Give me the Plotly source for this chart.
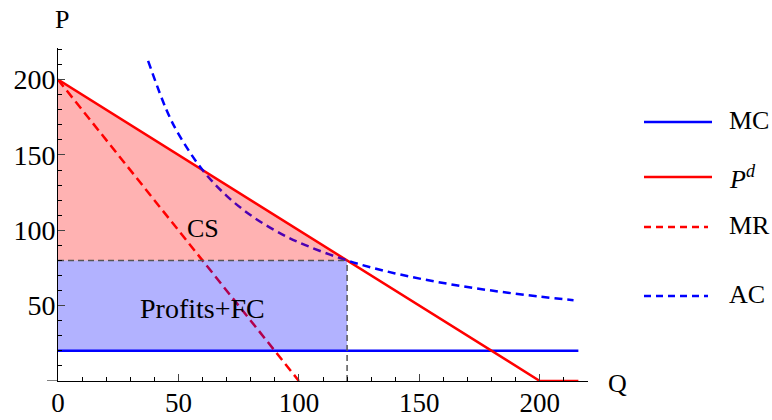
import plotly.graph_objects as go

# ---- data ----
mc_q = [0, 216]
mc_p = [20, 20]
demand_q = [0, 200, 216]
demand_p = [200, 0, 0]
mr_q = [0, 100]
mr_p = [200, 0]
ac_q = [37.4, 45, 50, 60, 70, 80, 90, 100, 120, 140, 160, 180, 200, 214]
ac_p = [212.5, 180, 164, 140, 122.9, 110, 100, 92, 80, 71.4, 65, 60, 56, 53.6]
cs_q = [0, 120, 0]
cs_p = [200, 80, 80]
profit_q = [0, 120, 120, 0]
profit_p = [20, 20, 80, 80]
q_star = 120
p_star = 80
x_ticks = [0, 50, 100, 150, 200]
y_ticks = [50, 100, 150, 200]
legend_names = ["MC", "<i>P</i><sup><i>d</i></sup>", "MR", "AC"]
legend_colors = ["#0000ff", "#ff0000", "#ff0000", "#0000ff"]
legend_dash = ["solid", "solid", "7px,5px", "7px,5px"]

FONT = "Liberation Serif"
FS = 26
W, H = 772, 420
ML, MR_, MT, MB = 58, 184, 48, 39
PW, PH = W - ML - MR_, H - MT - MB


def px2paper_x(px):
    return (px - ML) / PW


def px2paper_y(py):
    return (H - MB - py) / PH


fig = go.Figure()

fig.add_trace(go.Scatter(x=mc_q, y=mc_p, mode="lines",
                         line=dict(color="#0000ff", width=2.5), hoverinfo="skip"))
fig.add_trace(go.Scatter(x=demand_q, y=demand_p, mode="lines",
                         line=dict(color="#ff0000", width=2.5), hoverinfo="skip"))
fig.add_trace(go.Scatter(x=mr_q, y=mr_p, mode="lines",
                         line=dict(color="#ff0000", width=2.5, dash="9px,5px"), hoverinfo="skip"))
fig.add_trace(go.Scatter(x=ac_q, y=ac_p, mode="lines",
                         line=dict(color="#0000ff", width=2.5, dash="8px,5px", shape="spline"),
                         hoverinfo="skip"))
# translucent fills on top
fig.add_trace(go.Scatter(x=cs_q, y=cs_p, mode="lines", fill="toself",
                         fillcolor="rgba(255,0,0,0.3)", line=dict(width=0), hoverinfo="skip"))
fig.add_trace(go.Scatter(x=profit_q, y=profit_p, mode="lines", fill="toself",
                         fillcolor="rgba(0,0,255,0.3)", line=dict(width=0), hoverinfo="skip"))
# dashed guides
fig.add_trace(go.Scatter(x=[0, q_star], y=[p_star, p_star], mode="lines",
                         line=dict(color="#555555", width=1.5, dash="6px,4px"), hoverinfo="skip"))
fig.add_trace(go.Scatter(x=[q_star, q_star], y=[0, p_star], mode="lines",
                         line=dict(color="#555555", width=1.5, dash="6px,4px"), hoverinfo="skip"))

annotations = [
    dict(x=60, y=101.5, xref="x", yref="y", text="CS", showarrow=False,
         xanchor="center", yanchor="middle",
         font=dict(family=FONT, size=FS, color="black")),
    dict(x=60, y=48.4, xref="x", yref="y", text="Profits+FC", showarrow=False,
         xanchor="center", yanchor="middle",
         font=dict(family=FONT, size=28, color="black")),
    dict(x=px2paper_x(62), y=px2paper_y(20), xref="paper", yref="paper", text="P",
         xanchor="center", yanchor="middle",
         showarrow=False, font=dict(family=FONT, size=FS, color="black")),
    dict(x=px2paper_x(617), y=px2paper_y(383), xref="paper", yref="paper", text="Q",
         xanchor="center", yanchor="middle",
         showarrow=False, font=dict(family=FONT, size=FS, color="black")),
]

shapes = [
    dict(type="line", xref="paper", yref="y", x0=px2paper_x(47), x1=0, y0=0, y1=0,
         line=dict(color="black", width=1)),
]

line_y = [122, 177, 227, 296]
text_y = [120, 177, 225, 294]
for name, col, dsh, ly, ty in zip(legend_names, legend_colors, legend_dash, line_y, text_y):
    x1 = 712 if dsh == "solid" else 708
    shapes.append(dict(type="line", xref="paper", yref="paper",
                       x0=px2paper_x(644), x1=px2paper_x(x1),
                       y0=px2paper_y(ly), y1=px2paper_y(ly),
                       line=dict(color=col, width=2.5, dash=dsh)))
    annotations.append(dict(x=px2paper_x(727), y=px2paper_y(ty), xref="paper", yref="paper",
                            text=name, showarrow=False, xanchor="left", yanchor="middle",
                            font=dict(family=FONT, size=FS, color="black")))

axis_common = dict(showgrid=False, zeroline=False, showline=True, automargin=False,
                   linecolor="black", linewidth=1, ticks="inside", ticklen=7, tickcolor="#444",
                   minor=dict(ticks="inside", ticklen=4, dtick=10, tickcolor="black",
                              showgrid=False))

fig.update_layout(
    width=W, height=H,
    margin=dict(l=ML, r=MR_, t=MT, b=MB),
    paper_bgcolor="white", plot_bgcolor="white",
    showlegend=False,
    annotations=annotations,
    shapes=shapes,
    font=dict(family=FONT, size=FS, color="black"),
    xaxis=dict(range=[0, 220], tickvals=x_ticks, ticktext=[str(v) for v in x_ticks],
               tickfont=dict(family=FONT, size=27, color="black"), ticklabelstandoff=-2,
               **axis_common),
    yaxis=dict(range=[0, 221], tickvals=y_ticks, ticktext=[str(v) for v in y_ticks],
               tickfont=dict(family=FONT, size=28, color="black"), ticklabelstandoff=-4,
               **axis_common),
)

fig.write_html("out.html", config={"displayModeBar": False},
               post_script="document.body.style.margin='0';document.body.style.overflow='hidden';")
